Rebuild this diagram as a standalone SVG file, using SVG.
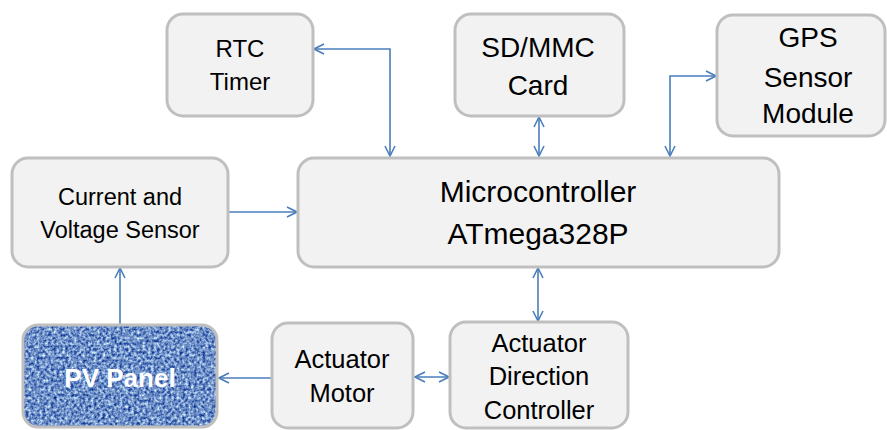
<svg xmlns="http://www.w3.org/2000/svg" width="887" height="430" viewBox="0 0 887 430">
<style>
.box{fill:#f2f2f2;stroke:#bfbfbf;stroke-width:3}
.t{font-family:"Liberation Sans",Arial,sans-serif;fill:#000;text-anchor:middle}
.c{fill:none;stroke:#4a7ebb;stroke-width:1.6}
</style>
<defs>
<marker id="ah" viewBox="0 0 12 12" refX="11" refY="6" markerWidth="12" markerHeight="12" markerUnits="userSpaceOnUse" orient="auto-start-reverse">
<path d="M1,1 L11,6 L1,11" fill="none" stroke="#4a7ebb" stroke-width="1.6"/>
</marker>
<filter id="denim" x="0" y="0" width="1" height="1" filterUnits="objectBoundingBox" color-interpolation-filters="sRGB">
<feTurbulence type="fractalNoise" baseFrequency="0.35 0.35" numOctaves="2" seed="4"/>
<feColorMatrix type="matrix" values="1.3 0 0 0 -0.22  1.2 0 0 0 -0.04  0.7 0 0 0 0.43  0 0 0 0 1"/>
</filter>
<clipPath id="pvclip"><rect x="23" y="325" width="194" height="102" rx="15"/></clipPath>
</defs>

<g id="connectors">
<path class="c" d="M314,49 H390 V156" marker-start="url(#ah)" marker-end="url(#ah)"/>
<path class="c" d="M539,117 V156" marker-start="url(#ah)" marker-end="url(#ah)"/>
<path class="c" d="M670,156 V76 H716" marker-start="url(#ah)" marker-end="url(#ah)"/>
<path class="c" d="M228,212 H297" marker-end="url(#ah)"/>
<path class="c" d="M120,324 V268" marker-end="url(#ah)"/>
<path class="c" d="M272,378 H219" marker-end="url(#ah)"/>
<path class="c" d="M415,377 H449" marker-start="url(#ah)" marker-end="url(#ah)"/>
<path class="c" d="M538,268 V321" marker-start="url(#ah)" marker-end="url(#ah)"/>
</g>

<g id="rtc">
<rect class="box" x="167" y="14" width="146" height="102" rx="16"/>
<text class="t" x="240" y="57" font-size="24">RTC</text>
<text class="t" x="240" y="90" font-size="24">Timer</text>
</g>

<g id="sdmmc">
<rect class="box" x="455" y="14" width="169" height="102" rx="16"/>
<text class="t" x="538" y="57" font-size="28">SD/MMC</text>
<text class="t" x="538" y="95" font-size="28">Card</text>
</g>

<g id="gps">
<rect class="box" x="717" y="15" width="168" height="121" rx="16"/>
<text class="t" x="808" y="47" font-size="28">GPS</text>
<text class="t" x="808" y="87" font-size="28">Sensor</text>
<text class="t" x="808" y="123" font-size="28">Module</text>
</g>

<g id="cvsensor">
<rect class="box" x="12" y="158" width="216" height="109" rx="16"/>
<text class="t" x="120" y="205" font-size="23.5">Current and</text>
<text class="t" x="120" y="238" font-size="23.5">Voltage Sensor</text>
</g>

<g id="mcu">
<rect class="box" x="298" y="158" width="481" height="109" rx="16"/>
<text class="t" x="538" y="202" font-size="30">Microcontroller</text>
<text class="t" x="538" y="244" font-size="30">ATmega328P</text>
</g>

<g id="pvpanel">
<g clip-path="url(#pvclip)">
<rect x="23" y="325" width="194" height="102" fill="#6a8cc6" filter="url(#denim)"/>
</g>
<rect x="23" y="325" width="194" height="102" rx="15" fill="none" stroke="#bfbfbf" stroke-width="3"/>
<text class="t" x="120" y="387" font-size="26" font-weight="bold" style="fill:#fff">PV Panel</text>
</g>

<g id="actmotor">
<rect class="box" x="272" y="323" width="141" height="105" rx="16"/>
<text class="t" x="342" y="368" font-size="25.5">Actuator</text>
<text class="t" x="342" y="402" font-size="25.5">Motor</text>
</g>

<g id="actdir">
<rect class="box" x="450" y="322" width="178" height="106" rx="16"/>
<text class="t" x="539" y="352" font-size="25.5">Actuator</text>
<text class="t" x="539" y="385" font-size="25.5">Direction</text>
<text class="t" x="539" y="419" font-size="25.5">Controller</text>
</g>
</svg>
